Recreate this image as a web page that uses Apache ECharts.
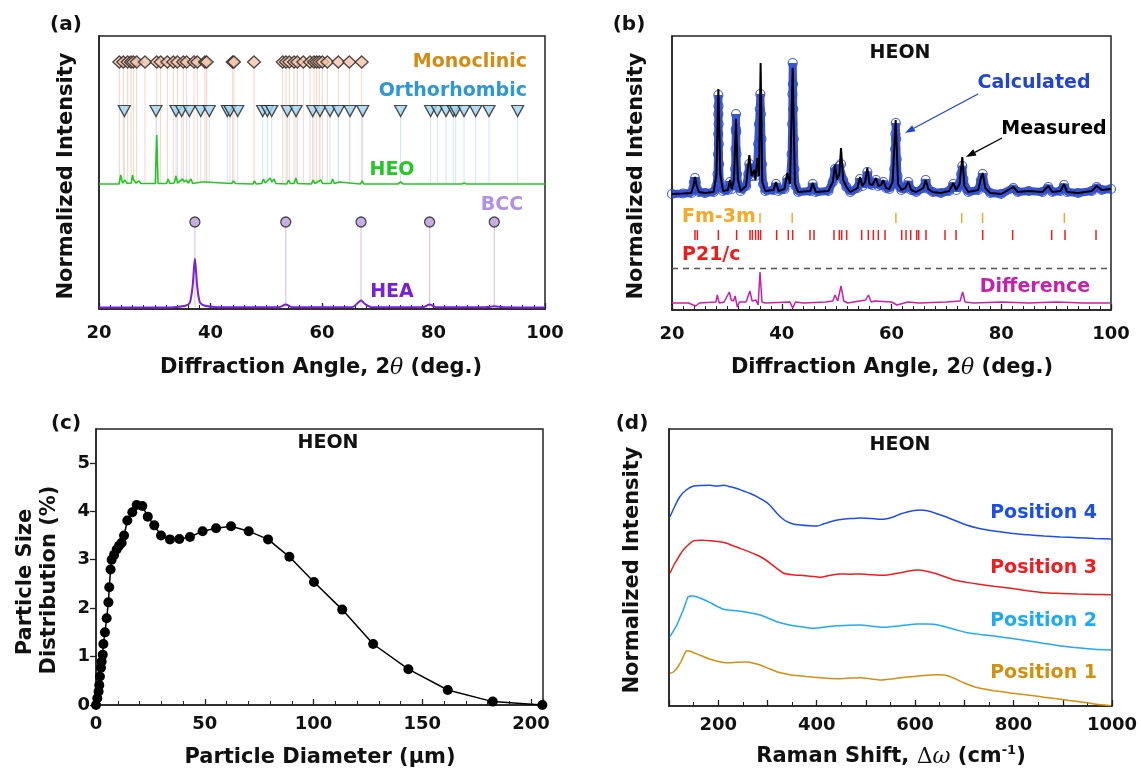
<!DOCTYPE html>
<html><head><meta charset="utf-8">
<script src="https://cdn.jsdelivr.net/npm/echarts/dist/echarts.min.js"></script>
<style>html,body{margin:0;padding:0;background:#fff}#c{width:1141px;height:775px}</style>
</head><body><div id="c"></div>
<script>
// ---------------- Panel (a) data ----------------
const monoclinicPos = [23.65,24.36,25.14,25.74,26.16,26.76,28.25,30.35,31.06,32.26,33.33,34.05,35.12,35.72,37.04,37.63,39.01,39.31,43.98,44.21,47.80,52.95,53.54,54.14,54.98,55.57,56.65,57.85,58.56,59.04,59.52,60.06,60.96,62.93,64.90,67.12];
const orthorhombicPos = [24.54,30.22,33.81,34.83,36.2,38.24,39.78,43.01,43.5,44.88,49.36,50.19,50.98,53.78,55.34,58.33,59.64,61.43,62.93,65.02,67.3,74.1,79.48,80.68,82.24,83.55,83.98,85.47,87.56,89.95,95.09];
const bccPos = [37.2,53.5,67.0,79.3,90.9];
const heoProfile = [[20,0],[23.6,0],[23.9,9],[24.2,1],[24.7,4],[25.0,0.5],[25.8,1],[26.0,9],[26.15,5],[26.3,6],[26.6,1],[27.2,3],[27.5,0.5],[30.1,0.5],[30.35,49],[30.6,0.5],[32.1,0.5],[32.4,5],[32.7,0.5],[33.5,1],[33.8,8],[34.1,1],[35.0,5],[35.3,2],[35.7,4],[36.0,1],[36.5,5],[36.8,0.5],[38.4,2],[38.7,1],[39.0,2],[39.3,0],[43.8,0.5],[44.1,3],[44.5,0.5],[47.6,0],[47.9,3],[48.2,0],[49.2,0.5],[49.5,5],[49.8,1],[50.7,6],[51.0,2],[51.4,5],[51.7,0.5],[53.7,0],[54.0,4],[54.3,0.5],[55.0,0.5],[55.3,6],[55.6,0.5],[58.1,0],[58.4,4],[58.7,0.5],[59.8,4],[60.1,0.5],[61.6,0.5],[61.9,5],[62.2,0.5],[63.1,2],[63.4,0],[66.9,0],[67.2,3],[67.5,0],[73.6,0],[74.1,2],[74.6,0],[85.1,0],[85.5,1],[85.9,0],[100,0]];
const heaProfile = [[20,0],[32,0],[34,0.6],[35.5,1.8],[36.3,5],[36.8,22],[37.2,49],[37.6,22],[38.1,5],[39,1.8],[40.5,0.6],[42,0.2],[52.3,0.3],[53.5,3],[54.7,0.3],[65.5,0.5],[66.4,4.5],[67.0,7],[67.7,3.5],[68.8,0.5],[78.1,0.3],[79.3,3],[80.5,0.3],[89.3,0.2],[90.9,1.2],[92.5,0.2],[100,0]];
const HEO_BASE = 125, HEA_BASE = 1.5, MONO_ROW = 247, ORTHO_ROW = 198, BCC_ROW = 87;

// ---------------- Panel (b) data ----------------
const measured = [[20,0],[22,0.5],[23.5,1],[23.9,8],[24.19,17],[24.5,8],[24.9,2],[26,1],[27.6,2],[28.1,20],[28.45,105],[28.8,20],[29.3,3],[30.2,4],[30.57,14],[30.9,5],[31.3,15],[31.66,75],[32.0,15],[32.5,3],[33.5,8],[34.09,39],[34.5,18],[34.94,24],[35.2,14],[35.55,36],[35.85,18],[36.15,131],[36.45,12],[37,3],[38.5,4],[38.95,12],[39.4,3],[40.5,5],[41.0,21],[41.5,10],[41.99,126],[42.4,10],[43,2],[45.2,3],[45.64,11],[46.2,2],[48.5,3],[49.3,12],[49.7,29],[50.1,14],[50.5,20],[50.8,46],[51.2,14],[51.8,7],[52.5,2],[53.8,6],[54.26,17],[54.7,8],[55.2,12],[55.6,26],[56.0,10],[56.5,9],[57.18,16],[57.6,8],[58.1,9],[58.5,14],[59.0,6],[59.6,5],[60.2,12],[60.76,74],[61.2,10],[61.8,4],[62.5,6],[63.07,12],[63.6,4],[64.5,2],[65.8,6],[66.23,14],[66.7,5],[67.5,2],[69,1],[70.5,3],[71.26,11],[71.8,4],[72.4,10],[72.9,37],[73.3,8],[74,2],[75.8,4],[76.3,16],[76.62,21],[77.1,6],[78,1],[80,0],[82.2,7],[83,2],[85,3],[87.5,2],[88.58,8],[89.3,2],[90.8,3],[91.44,10],[92.0,2],[94,1],[96.5,3],[97.39,8],[98.3,4],[100,5]];
const calculated = [[20,0],[22,0.5],[23.5,1],[23.9,6],[24.0,12],[24.19,16],[24.35,12],[24.5,6],[24.9,2],[26,1],[27.6,2],[28.1,8],[28.3,20],[28.38,40],[28.42,60],[28.44,80],[28.45,99],[28.47,88],[28.5,70],[28.53,50],[28.58,30],[28.7,12],[29.3,3],[30.2,4],[30.57,12],[30.9,5],[31.3,10],[31.5,25],[31.58,45],[31.63,65],[31.66,80],[31.7,62],[31.75,40],[31.85,20],[32.1,8],[32.5,3],[33.5,8],[33.9,20],[34.09,30],[34.3,22],[34.6,18],[34.94,22],[35.2,18],[35.55,30],[35.7,50],[35.85,70],[36.0,85],[36.1,100],[36.2,80],[36.3,55],[36.4,30],[36.6,10],[37,3],[38.5,4],[38.95,10],[39.4,3],[40.5,5],[41.0,15],[41.5,12],[41.8,40],[41.9,70],[41.95,100],[42.0,131],[42.05,110],[42.1,85],[42.2,55],[42.3,25],[42.5,8],[43,2],[45.2,3],[45.64,10],[46.2,2],[48.5,3],[49.3,12],[49.7,25],[50.1,25],[50.5,28],[50.8,30],[51.2,14],[51.8,7],[52.5,2],[53.8,6],[54.26,15],[54.7,8],[55.2,12],[55.6,22],[56.0,10],[56.5,9],[57.18,14],[57.6,8],[58.1,9],[58.5,12],[59.0,6],[59.6,5],[60.2,10],[60.5,25],[60.65,45],[60.72,60],[60.78,71],[60.85,55],[60.95,35],[61.1,18],[61.4,8],[61.8,4],[62.5,6],[63.07,12],[63.6,4],[64.5,2],[65.8,6],[66.23,14],[66.7,5],[67.5,2],[69,1],[70.5,3],[71.26,10],[71.8,4],[72.4,10],[72.7,20],[72.9,28],[73.1,15],[73.5,6],[74,2],[75.8,4],[76.3,14],[76.62,20],[77.1,6],[78,1],[80,0],[82.2,6],[83,2],[85,3],[87.5,2],[88.58,7],[89.3,2],[90.8,3],[91.44,9],[92.0,2],[94,1],[96.5,3],[97.39,7],[98.3,4],[100,5]];
const difference = [[20,0],[23,0],[24.3,-3],[25,0],[28.0,1],[28.26,8],[28.6,0],[29.5,1],[30.45,11],[30.8,3],[31.2,2],[31.5,7],[31.9,-4],[32.3,1],[33.5,1],[34.2,12],[34.6,2],[35.3,3],[35.7,-2],[36.04,31],[36.4,1],[37,0],[41.5,1],[42,-5],[42.5,1],[44,0],[48,1],[49.3,2],[49.7,8],[50.2,2],[50.8,17],[51.3,2],[52,0],[55.3,3],[55.8,8],[56.3,1],[57,2],[60,1],[61,-2],[63,1],[65,0],[70,1],[72.5,2],[72.97,11],[73.4,1],[75,0],[80,1],[85,0],[90,1],[95,0],[100,0]];
const fm3mPos = [36.04,41.9,60.8,72.8,76.6,91.5];
const p21cPos = [24.19,24.62,28.45,31.78,34.21,34.64,35.24,35.73,36.15,39.07,41.2,41.99,45.15,45.88,49.52,50.49,50.92,51.83,54.56,55.78,56.69,57.6,58.82,61.86,62.65,63.5,64.59,64.96,66.29,69.75,71.76,76.62,82.08,89.19,91.62,97.27];
const PAT_BASE = 116, DIFF_BASE = 7, FM_ROW = [87,97], P21_ROW = [70,80], DASH_Y = 42;

// ---------------- Panel (c) data ----------------
const diameter = [0,0.6,1.2,1.5,1.8,2.3,2.6,3.1,3.4,4.1,4.9,5.7,6.1,6.7,7.2,8.3,9.5,10.6,11.8,12.9,14.4,16.7,18.7,21.3,23.8,26.8,29.9,34.0,38.3,43.2,49.0,55.2,62.1,70.2,79.1,88.9,100.2,113.2,127.4,143.6,161.7,182.4,205.2];
const distribution = [0,0.14,0.28,0.41,0.59,0.77,0.9,1.04,1.26,1.5,1.79,2.12,2.43,2.8,3.0,3.1,3.21,3.29,3.35,3.5,3.81,3.98,4.13,4.11,3.89,3.71,3.5,3.42,3.43,3.47,3.59,3.65,3.69,3.59,3.42,3.06,2.54,1.97,1.26,0.74,0.31,0.07,0.0];
const psdTicks = [0,1,2,3,4,5];

// ---------------- Panel (d) data ----------------
const raman4 = [[102,189.3],[112,200],[122,209.3],[135,216],[150,220],[168,220.5],[183.5,220.7],[197,220],[211,220.7],[224,219.3],[238,217.5],[251,215],[265,212.5],[278.5,209.3],[299,203.3],[310,198],[319,192.7],[330,187.5],[340,184.3],[352,182],[367,181],[385,180.3],[401,180],[415,182.3],[428,184.3],[445,186.2],[462,187.3],[475,187.5],[489,188],[510,187.6],[530,186.7],[545,187.6],[557,189.3],[570,192],[584,194],[598,195.6],[611,196],[625,195.2],[638,193.3],[655,190.5],[672,187.3],[690,183.8],[706,180.7],[726,178],[747,176],[770,174.4],[794,172.7],[830,171.2],[862,170],[895,169],[930,168.3],[965,167.6],[998,167]];
const raman3 = [[102,132.7],[109,140],[116,146],[122,151],[129,156],[140,161.5],[150,165.3],[167,165.8],[183.5,165.3],[200,164.5],[217,162.7],[230,160.2],[244,157.7],[262,154.4],[278.5,151],[292,147.5],[306,142.7],[320,137.2],[333,132.7],[350,131.2],[367,130.7],[387,129.8],[407.5,128.7],[428,130.8],[448,132],[468,131.8],[489,132],[510,131.3],[530,130.7],[550,131.6],[570.5,133.3],[588,135],[604,136],[625,134.6],[645,132],[662,129],[679,126],[703,123.8],[726.6,122],[760,119.7],[794,117.7],[828,115.3],[862,113.3],[896,112.6],[930,112],[965,111.6],[998,111.3]];
const raman2 = [[102,69.3],[109,75],[116,81],[122,88],[129,96],[134,103],[139,109.3],[147,110],[156,109.3],[170,106.5],[183.5,103.3],[197,99.8],[211,96.7],[231,95.5],[251,94.3],[268,92.8],[285,91],[302,87.8],[319,84.3],[336,82],[353,80.3],[374,78.9],[394,77.7],[418,78.9],[441.5,80.3],[465,80.8],[489,81],[512,79.8],[536.5,78.7],[553,79.4],[570.5,80.3],[587,81.3],[604,82],[621,82.1],[638,81.7],[655,79.9],[672,77.7],[689,75.4],[706,73.3],[733,71.6],[760.5,70],[794,67.7],[828,65.3],[862,62.6],[896,60],[930,58.2],[964,56.7],[998,56]];
const raman1 = [[102,32.7],[109,34],[116,37.7],[121,41.5],[126,46],[131,51.5],[136,55.3],[143,54.7],[150,53.3],[167,50],[183.5,46.7],[200,44.6],[217,43.3],[238,43.8],[258,44],[272,42.8],[285,41],[302,37.6],[319,34.3],[336,32.2],[353,30.7],[380,29.4],[407.5,28.3],[428,27.6],[448,27.3],[468,27.9],[489,28.3],[510,27.1],[530,26],[550,27],[570.5,28.3],[598,29.6],[625,30.7],[642,31.2],[659,31],[669,29.8],[679,27.7],[700,23],[720,19.3],[740,17],[760.5,15.3],[794,13.1],[828,11],[862,8.8],[896,6.7],[930,4.4],[964,2],[998,0.3]];

// ---------------- chart ----------------
const FONT = 'DejaVu Sans';
const chart = echarts.init(document.getElementById('c'), null, {renderer:'canvas'});
const shift = (arr, base) => arr.map(p => [p[0], p[1] + base]);

function xAx(gi, min, max, interval, minorSplit, fmt, margin) {
  return {gridIndex: gi, type:'value', min, max, interval,
    axisLine:{show:true, onZero:false, lineStyle:{color:'#222', width:1.5}},
    axisTick:{show:true, inside:true, length:6, lineStyle:{color:'#222', width:1.3}},
    minorTick:{show:true, splitNumber:minorSplit, length:4, lineStyle:{color:'#222', width:1}},
    axisLabel:{show:true, margin: margin, color:'#111', fontFamily:FONT, fontWeight:'bold', fontSize:18, formatter: fmt},
    splitLine:{show:false}, minorSplitLine:{show:false}};
}
function yHidden(gi, min, max) {
  return {gridIndex: gi, type:'value', min, max, axisLine:{show:true, lineStyle:{color:'#222', width:1.5}},
    axisTick:{show:false}, axisLabel:{show:false}, splitLine:{show:false}};
}
function sticks(xi, positions, y0, y1, color, width, z) {
  return {type:'custom', xAxisIndex:xi, yAxisIndex:xi, silent:true, z: z || 1,
    data: positions.map(p => [p, y0, y1]), encode:{x:0, y:1},
    renderItem: (params, api) => {
      const a = api.coord([api.value(0), api.value(1)]);
      const b = api.coord([api.value(0), api.value(2)]);
      return {type:'line', shape:{x1:a[0], y1:a[1], x2:b[0], y2:b[1]}, style:{stroke:color, lineWidth:width}};
    }};
}
function txt(x, y, text, color, size, align, extra) {
  return Object.assign({type:'text', x, y, silent:true, z:100,
    style:{text, fill:color, font:'bold ' + size + 'px "' + FONT + '"', align: align || 'center', verticalAlign:'middle', textAlign: align || 'center', textVerticalAlign:'middle'}}, extra || {});
}
function arrow(x1, y1, x2, y2, color) {
  const dx = x2 - x1, dy = y2 - y1, L = Math.hypot(dx, dy), ux = dx / L, uy = dy / L;
  const bx = x2 - 10 * ux, by = y2 - 10 * uy, px = -uy, py = ux;
  return [
    {type:'line', silent:true, z:100, shape:{x1, y1, x2: bx, y2: by}, style:{stroke:color, lineWidth:1.3}},
    {type:'polygon', silent:true, z:100, shape:{points:[[x2, y2], [bx + 3.5 * px, by + 3.5 * py], [bx - 3.5 * px, by - 3.5 * py]]}, style:{fill:color}}
  ];
}
const ttl = (x, y, rich, text, rot) => ({type:'text', x, y, silent:true, z:100, rotation: rot || 0,
  style:{text, rich, align:'center', verticalAlign:'middle', textAlign:'center', textVerticalAlign:'middle', fill:'#111', font:'bold 21px "' + FONT + '"'}});
const R = {
  a:{font:'bold 21px "' + FONT + '"', fill:'#111'},
  t:{font:'italic 22px "DejaVu Serif"', fill:'#111'},
  g:{font:'22px "DejaVu Serif"', fill:'#111'},
  s:{font:'bold 13px "' + FONT + '"', fill:'#111', verticalAlign:'top', padding:[0,0,12,0]}
};

const option = {
  animation:false,
  backgroundColor:'#fff',
  grid:[
    {left:99, top:36, width:446, height:273, show:true, borderColor:'#222', borderWidth:1.5},
    {left:672, top:36, width:439, height:274, show:true, borderColor:'#222', borderWidth:1.5},
    {left:96, top:429, width:447, height:276, show:true, borderColor:'#222', borderWidth:1.5},
    {left:669, top:429, width:443, height:277, show:true, borderColor:'#222', borderWidth:1.5}
  ],
  xAxis:[
    xAx(0, 20, 100, 20, 10, undefined, 15),
    xAx(1, 20, 100, 20, 10, undefined, 15),
    xAx(2, 0, 205.5, 50, 5, v => (v % 50 === 0 ? String(v) : ''), 10),
    xAx(3, 100, 1000, 100, 2, v => (v % 200 === 0 ? String(v) : ''), 10)
  ],
  yAxis:[
    yHidden(0, 0, 273),
    yHidden(1, 0, 274),
    {gridIndex:2, type:'value', min:0, max:5.7, interval:1,
      axisLine:{show:true, lineStyle:{color:'#222', width:1.5}},
      axisTick:{show:true, inside:false, length:6, customValues: psdTicks, lineStyle:{color:'#222', width:1.3}},
      axisLabel:{margin:6, color:'#111', fontFamily:FONT, fontWeight:'bold', fontSize:18, customValues: psdTicks, formatter: v => (Number.isInteger(v) ? String(v) : '')},
      splitLine:{show:false}},
    yHidden(3, 0, 277)
  ],
  series:[
    // (a)
    sticks(0, monoclinicPos, HEO_BASE, MONO_ROW, '#f9d3c6', 1, 1),
    sticks(0, orthorhombicPos, HEO_BASE, ORTHO_ROW, '#cde7f6', 1, 1),
    sticks(0, bccPos, HEA_BASE, BCC_ROW, '#d8c6f2', 1.2, 1),
    {type:'line', xAxisIndex:0, yAxisIndex:0, data: shift(heoProfile, HEO_BASE), showSymbol:false, z:3,
      lineStyle:{color:'#22c922', width:1.6}},
    {type:'line', xAxisIndex:0, yAxisIndex:0, data: shift(heaProfile, HEA_BASE), showSymbol:false, z:3, smooth:0.25,
      lineStyle:{color:'#7a1fd8', width:2}},
    {type:'scatter', xAxisIndex:0, yAxisIndex:0, data: monoclinicPos.map(p => [p, MONO_ROW]), symbol:'diamond', symbolSize:[13,12], z:4,
      itemStyle:{color:'#f8c4ab', borderColor:'#222', borderWidth:1.3}},
    {type:'scatter', xAxisIndex:0, yAxisIndex:0, data: orthorhombicPos.map(p => [p, ORTHO_ROW]), symbol:'triangle', symbolRotate:180, symbolSize:[12,11], z:4,
      itemStyle:{color:'#9fd4ef', borderColor:'#222', borderWidth:1.3}},
    {type:'scatter', xAxisIndex:0, yAxisIndex:0, data: bccPos.map(p => [p, BCC_ROW]), symbol:'circle', symbolSize:10, z:4,
      itemStyle:{color:'#b99bdc', borderColor:'#222', borderWidth:1.3}},
    // (b)
    {type:'line', xAxisIndex:1, yAxisIndex:1, data: shift(calculated, PAT_BASE), showSymbol:false, z:2,
      lineStyle:{color:'#2342cc', width:8, opacity:0.9}},
    {type:'scatter', xAxisIndex:1, yAxisIndex:1, data: shift(calculated, PAT_BASE), symbol:'circle', symbolSize:9, z:3,
      itemStyle:{color:'rgba(0,0,0,0)', borderColor:'#2a48d0', borderWidth:1.2, opacity:0.85}},
    {type:'line', xAxisIndex:1, yAxisIndex:1, data: shift(measured, PAT_BASE), showSymbol:false, z:4,
      lineStyle:{color:'#000', width:2}},
    sticks(1, fm3mPos, FM_ROW[0], FM_ROW[1], '#f7a824', 1.5, 3),
    sticks(1, p21cPos, P21_ROW[0], P21_ROW[1], '#f01c1c', 1.5, 3),
    {type:'line', xAxisIndex:1, yAxisIndex:1, data: shift(difference, DIFF_BASE), showSymbol:false, z:3,
      lineStyle:{color:'#c81fae', width:1.5},
      markLine:{silent:true, symbol:'none', label:{show:false}, data:[{yAxis: DASH_Y}],
        lineStyle:{type:[6,5], color:'#555', width:1.3}}},
    // (c)
    {type:'line', xAxisIndex:2, yAxisIndex:2, data: diameter.map((d, i) => [d, distribution[i]]), symbol:'circle', symbolSize:10, showAllSymbol:true, z:3,
      lineStyle:{color:'#000', width:1.5}, itemStyle:{color:'#000'}},
    // (d)
    {type:'line', xAxisIndex:3, yAxisIndex:3, data: raman4, showSymbol:false, smooth:0.2, lineStyle:{color:'#1c4df2', width:1.5}},
    {type:'line', xAxisIndex:3, yAxisIndex:3, data: raman3, showSymbol:false, smooth:0.2, lineStyle:{color:'#f21c1c', width:1.5}},
    {type:'line', xAxisIndex:3, yAxisIndex:3, data: raman2, showSymbol:false, smooth:0.2, lineStyle:{color:'#1eaaf5', width:1.5}},
    {type:'line', xAxisIndex:3, yAxisIndex:3, data: raman1, showSymbol:false, smooth:0.2, lineStyle:{color:'#d4900c', width:1.5}}
  ],
  graphic:[
    // panel letters
    txt(66, 25, '(a)', '#111', 20), txt(629, 25, '(b)', '#111', 20),
    txt(66, 424, '(c)', '#111', 20), txt(632, 424, '(d)', '#111', 20),
    // axis titles
    ttl(321, 368, R, '{a|Diffraction Angle, 2}{t|θ}{a| (deg.)}'),
    ttl(892, 368, R, '{a|Diffraction Angle, 2}{t|θ}{a| (deg.)}'),
    ttl(320, 758, R, '{a|Particle Diameter (μm)}'),
    ttl(891, 757, R, '{a|Raman Shift, }{g|Δ}{t|ω}{a| (cm}{s|-1}{a|)}'),
    ttl(67, 176, R, '{a|Normalized Intensity}', Math.PI / 2),
    ttl(637, 176, R, '{a|Normalized Intensity}', Math.PI / 2),
    ttl(633, 570, R, '{a|Normalized Intensity}', Math.PI / 2),
    ttl(26, 582, R, '{a|Particle Size}', Math.PI / 2),
    ttl(50, 580, R, '{a|Distribution (%)}', Math.PI / 2),
    // (a) labels
    txt(527, 62, 'Monoclinic', '#d38b14', 19, 'right'),
    txt(527, 91.5, 'Orthorhombic', '#2b98d8', 19, 'right'),
    txt(392, 170, 'HEO', '#22c922', 19),
    txt(502, 205, 'BCC', '#b290e6', 19),
    txt(392, 292, 'HEA', '#7a1fd8', 19),
    // (b) labels
    txt(900, 53, 'HEON', '#111', 19),
    txt(1034, 83, 'Calculated', '#1f44d6', 19),
    txt(1054, 129, 'Measured', '#000', 19),
    txt(682, 217, 'Fm-3m', '#f7a824', 19, 'left'),
    txt(682, 255, 'P21/c', '#f01c1c', 19, 'left'),
    txt(1035, 287, 'Difference', '#c81fae', 19),
    ...arrow(978, 94, 905, 133, '#1f44d6'),
    ...arrow(1002, 138, 966, 157, '#000'),
    // (c)
    txt(328, 443, 'HEON', '#111', 19),
    // (d)
    txt(900, 445, 'HEON', '#111', 19),
    txt(1097, 513, 'Position 4', '#1c4df2', 19, 'right'),
    txt(1097, 568, 'Position 3', '#f21c1c', 19, 'right'),
    txt(1097, 621, 'Position 2', '#1eaaf5', 19, 'right'),
    txt(1097, 673, 'Position 1', '#d4900c', 19, 'right')
  ]
};
chart.setOption(option);
</script></body></html>
